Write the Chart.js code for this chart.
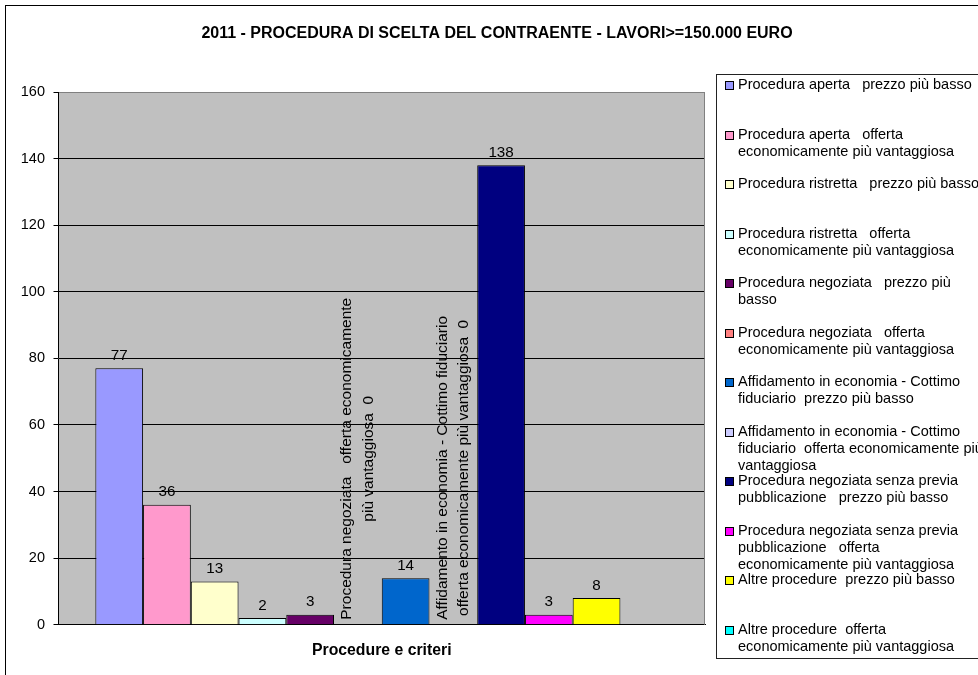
<!DOCTYPE html>
<html>
<head>
<meta charset="utf-8">
<script src="https://cdn.jsdelivr.net/npm/chart.js@4.4.1/dist/chart.umd.min.js"></script>
<style>
  html, body { margin: 0; padding: 0; background: #ffffff; overflow: hidden; width: 978px; height: 675px; }
  #wrap { position: absolute; left: 0; top: 0; width: 994px; height: 685px; }
</style>
</head>
<body>
<div id="wrap"><canvas id="c" width="994" height="685"></canvas></div>
<script>
// ---------------- DATA ----------------
const chartTitle = "2011 - PROCEDURA DI SCELTA DEL CONTRAENTE - LAVORI>=150.000 EURO";
const xAxisTitle = "Procedure e criteri";
const categories = [""];
const seriesNames = [
  "Procedura aperta   prezzo più basso",
  "Procedura aperta   offerta\neconomicamente più vantaggiosa",
  "Procedura ristretta   prezzo più basso",
  "Procedura ristretta   offerta\neconomicamente più vantaggiosa",
  "Procedura negoziata   prezzo più\nbasso",
  "Procedura negoziata   offerta\neconomicamente più vantaggiosa",
  "Affidamento in economia - Cottimo\nfiduciario  prezzo più basso",
  "Affidamento in economia - Cottimo\nfiduciario  offerta economicamente più\nvantaggiosa",
  "Procedura negoziata senza previa\npubblicazione   prezzo più basso",
  "Procedura negoziata senza previa\npubblicazione   offerta\neconomicamente più vantaggiosa",
  "Altre procedure  prezzo più basso",
  "Altre procedure  offerta\neconomicamente più vantaggiosa"
];
const seriesValues = [77, 36, 13, 2, 3, 0, 14, 0, 138, 3, 8, 0];
const seriesColors = ["#9999FF", "#FF99CC", "#FFFFCC", "#CCFFFF", "#660066", "#FF8080",
                      "#0066CC", "#CCCCFF", "#000080", "#FF00FF", "#FFFF00", "#00FFFF"];
const yTicks = [0, 20, 40, 60, 80, 100, 120, 140, 160];
const seriesWithNameLabel = [5, 7];

// ---------------- STYLE ----------------
const FONT = "'Liberation Sans', Arial, Helvetica, sans-serif";
Chart.defaults.font.family = FONT;
Chart.defaults.color = '#000';

const plotBgPlugin = {
  id: 'plotBg',
  beforeDraw(chart) {
    const ctx = chart.ctx, a = chart.chartArea;
    ctx.save();
    ctx.fillStyle = '#fff';
    ctx.fillRect(0, 0, chart.width, chart.height);
    ctx.strokeStyle = '#000';
    ctx.lineWidth = 1;
    ctx.strokeRect(5.5, 5.5, chart.width - 11, chart.height - 11);
    ctx.fillStyle = '#C0C0C0';
    ctx.fillRect(a.left, a.top, a.right - a.left, a.bottom - a.top);
    ctx.restore();
  },
  afterDraw(chart) {
    const ctx = chart.ctx, a = chart.chartArea;
    ctx.save();
    ctx.strokeStyle = '#808080';
    ctx.lineWidth = 1;
    ctx.beginPath();
    ctx.moveTo(Math.round(a.right) - 0.5, a.top);
    ctx.lineTo(Math.round(a.right) - 0.5, a.bottom);
    ctx.stroke();
    ctx.restore();
  }
};

function wrapText(ctx, text, maxW) {
  const tokens = text.split(/(\s+)/);
  const lines = [];
  let line = '', pending = '';
  for (const t of tokens) {
    if (t === '') continue;
    if (/^\s+$/.test(t)) { pending += t; continue; }
    const cand = line + pending + t;
    if (line && ctx.measureText(cand).width > maxW) {
      lines.push(line); line = t;
    } else {
      line = cand;
    }
    pending = '';
  }
  if (line) lines.push(line);
  return lines;
}

const valueLabelPlugin = {
  id: 'valueLabels',
  afterDatasetsDraw(chart) {
    const ctx = chart.ctx;
    ctx.save();
    ctx.fillStyle = '#000';
    chart.data.datasets.forEach((ds, i) => {
      const meta = chart.getDatasetMeta(i);
      const bar = meta.data[0];
      const v = ds.data[0];
      if (v > 0) {
        ctx.font = "15.2px " + FONT;
        ctx.textAlign = 'center';
        ctx.textBaseline = 'alphabetic';
        ctx.fillText(String(v), bar.x, bar.y - 8.5);
      } else if (seriesWithNameLabel.includes(i)) {
        ctx.font = "15.5px " + FONT;
        const text = ds.label.replace(/\n/g, ' ') + '  ' + v;
        const lines = wrapText(ctx, text, 330);
        const maxW = Math.max(...lines.map(l => ctx.measureText(l).width));
        ctx.save();
        ctx.translate(bar.x, bar.y - 5);
        ctx.rotate(-Math.PI / 2);
        ctx.textAlign = 'center';
        ctx.textBaseline = 'middle';
        lines.forEach((l, k) => {
          ctx.fillText(l, maxW / 2, (k - (lines.length - 1) / 2) * 21.6);
        });
        ctx.restore();
      }
    });
    ctx.restore();
  }
};

function drawSideLegend(chart, box) {
  const ctx = chart.ctx;
  ctx.save();
  ctx.strokeStyle = '#222';
  ctx.lineWidth = 1;
  const fx = Math.round(box.left) + 11.5;
  ctx.strokeRect(fx, 74.5, 300, 584);
  ctx.font = "14.5px " + FONT;
  ctx.textAlign = 'left';
  ctx.textBaseline = 'middle';
  chart.data.datasets.forEach((ds, i) => {
    const cy = 85 + i * 49.5;
    const sx = Math.round(box.left) + 20;
    const sy = Math.round(cy - 4);
    ctx.fillStyle = ds.backgroundColor;
    ctx.fillRect(sx, sy, 9, 9);
    ctx.strokeStyle = '#000';
    ctx.strokeRect(sx + 0.5, sy + 0.5, 8, 8);
    ctx.fillStyle = '#000';
    ds.label.split('\n').forEach((line, k) => {
      ctx.fillText(line, sx + 13, cy + k * 17);
    });
  });
  ctx.restore();
}

const sideLegendPlugin = {
  id: 'sideLegend',
  beforeInit(chart) {
    const box = {
      position: 'right', weight: 0, fullSize: false, options: {},
      left: 0, top: 0, right: 0, bottom: 0, width: 0, height: 0,
      isHorizontal() { return false; },
      update(maxWidth, maxHeight) { this.width = 284; this.height = maxHeight; },
      draw() { drawSideLegend(chart, this); }
    };
    Chart.layouts.addBox(chart, box);
  }
};

const datasets = seriesNames.map((name, i) => ({
  label: name,
  data: [seriesValues[i]],
  backgroundColor: seriesColors[i],
  borderColor: '#000',
  borderWidth: 1,
  categoryPercentage: 0.886,
  barPercentage: 1.0
}));

new Chart(document.getElementById('c'), {
  type: 'bar',
  data: { labels: categories, datasets: datasets },
  options: {
    responsive: false,
    animation: false,
    devicePixelRatio: 1,
    events: [],
    layout: { padding: { left: 5, right: 5, top: 5, bottom: 24.4 } },
    plugins: {
      legend: { display: false },
      tooltip: { enabled: false },
      title: {
        display: true,
        text: chartTitle,
        color: '#000',
        font: { family: FONT, size: 16, weight: 'bold', lineHeight: 1.2 },
        padding: { top: 18.9, bottom: 48.9 }
      }
    },
    scales: {
      x: {
        type: 'category',
        grid: { display: false, drawTicks: false, tickLength: 0 },
        ticks: { display: false },
        border: { display: true, color: '#000', width: 1 },
        title: {
          display: true,
          text: xAxisTitle,
          color: '#000',
          font: { family: FONT, size: 15.8, weight: 'bold', lineHeight: 1.2 },
          padding: { top: 16.9, bottom: 0 }
        }
      },
      y: {
        min: yTicks[0],
        max: yTicks[yTicks.length - 1],
        afterBuildTicks(scale) { scale.ticks = yTicks.map(v => ({ value: v })); },
        afterFit(scale) { scale.width = 53.5; },
        ticks: { color: '#000', font: { family: FONT, size: 14.5 }, padding: 8.5 },
        grid: {
          color: (c) => (c.tick && c.tick.value === yTicks[yTicks.length - 1]) ? '#808080' : '#000',
          tickColor: '#000',
          tickLength: 5,
          lineWidth: 1
        },
        border: { display: true, color: '#000', width: 1 }
      }
    }
  },
  plugins: [plotBgPlugin, sideLegendPlugin, valueLabelPlugin]
});
</script>
</body>
</html>
